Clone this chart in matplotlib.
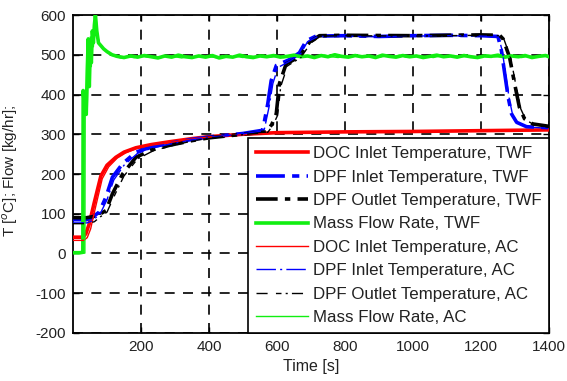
import matplotlib
matplotlib.use("Agg")
import matplotlib.pyplot as plt

plt.rcParams['font.family'] = ['Liberation Sans', 'DejaVu Sans']
plt.rcParams['axes.unicode_minus'] = False

# ---------------- data ----------------
# DOC inlet temperature
t_doc_twf = [0, 30, 38, 48, 62, 82, 100, 126, 150, 185, 230, 283, 350, 400, 500, 600, 800, 1000, 1200, 1400]
v_doc_twf = [41, 41, 50, 75, 126, 195, 222, 242, 255, 266, 274, 281, 289, 294, 300, 304, 306, 307, 309, 311]
t_doc_ac = [0, 32, 42, 52, 66, 86, 105, 130, 155, 190, 235, 290, 350, 400, 500, 600, 800, 1000, 1200, 1400]
v_doc_ac = [33, 33, 40, 62, 115, 188, 218, 240, 253, 265, 273, 280, 288, 293, 299, 303, 305, 306, 308, 310]

# DPF inlet temperature
t_dpfi_twf = [0, 40, 55, 77, 97, 116, 146, 185, 230, 283, 350, 400, 500, 558, 573, 583, 598, 637, 666, 686,
              715, 800, 900, 1000, 1100, 1200, 1250, 1260, 1270, 1280, 1290, 1305, 1334, 1400]
v_dpfi_twf = [85, 85, 90, 104, 142, 192, 226, 255, 268, 277, 287, 293, 302, 310, 377, 435, 473, 488, 505, 535,
              547, 548, 546, 548, 549, 548, 546, 511, 452, 393, 351, 330, 319, 316]
t_dpfi_ac = [0, 42, 58, 80, 100, 120, 150, 190, 235, 290, 350, 400, 500, 562, 577, 588, 603, 640, 670, 690,
             720, 800, 900, 1000, 1100, 1200, 1252, 1263, 1273, 1283, 1293, 1308, 1338, 1400]
v_dpfi_ac = [77, 77, 83, 100, 135, 185, 222, 252, 266, 276, 286, 292, 301, 309, 370, 428, 468, 485, 503, 533,
             546, 547, 545, 547, 548, 547, 545, 508, 448, 390, 349, 328, 318, 315]

# DPF outlet temperature
t_dpfo_twf = [0, 40, 60, 77, 97, 116, 126, 146, 185, 230, 283, 350, 400, 500, 570, 585, 598, 607, 627, 666,
              696, 725, 800, 1000, 1200, 1255, 1265, 1284, 1299, 1313, 1328, 1352, 1400]
v_dpfo_twf = [90, 90, 93, 98, 108, 150, 167, 200, 242, 260, 272, 284, 291, 300, 306, 325, 352, 427, 477, 495,
              532, 548, 549, 548, 550, 549, 540, 494, 427, 368, 339, 326, 320]
t_dpfo_ac = [0, 42, 63, 80, 100, 120, 130, 150, 190, 235, 290, 350, 400, 500, 573, 588, 602, 611, 631, 670,
             700, 730, 800, 1000, 1200, 1258, 1268, 1288, 1303, 1317, 1332, 1356, 1400]
v_dpfo_ac = [75, 75, 80, 92, 104, 142, 160, 195, 238, 258, 271, 283, 290, 299, 305, 322, 348, 420, 472, 493,
             530, 547, 548, 547, 549, 548, 538, 490, 422, 364, 336, 324, 319]

# Mass flow rate
t_flow_twf = [0, 20, 29, 30, 33, 36, 39, 42, 45, 48, 51, 54, 57, 60, 63, 66, 70, 75, 80, 90, 100, 115, 130,
              150, 170, 190, 210, 230, 250, 270, 290, 310, 330, 350, 370, 390, 410, 430, 450, 470, 490, 510,
              530, 550, 570, 590, 610, 630, 650, 670, 690, 710, 730, 750, 770, 790, 810, 830, 850, 870, 890,
              910, 930, 950, 970, 990, 1010, 1030, 1050, 1070, 1090, 1110, 1130, 1150, 1170, 1190, 1210,
              1230, 1250, 1270, 1290, 1310, 1330, 1350, 1370, 1390, 1400]
v_flow_twf = [2, 2, 3, 410, 380, 400, 350, 460, 540, 420, 520, 480, 560, 530, 575, 600, 560, 530, 525, 515,
              508, 500, 496, 493, 497, 494, 498, 495, 492, 497, 494, 499, 495, 493, 497, 494, 498, 492,
              496, 494, 499, 495, 493, 497, 495, 498, 494, 496, 499, 495, 497, 493, 498, 495, 500, 496, 494,
              498, 495, 497, 493, 499, 496, 494, 498, 495, 497, 493, 496, 499, 495, 497, 494, 498, 495, 493,
              497, 496, 499, 494, 497, 495, 498, 493, 496, 498, 495]
t_flow_ac = [0, 20, 35, 36, 39, 42, 45, 48, 51, 54, 57, 60, 64, 68, 72, 78, 85, 95, 105, 120, 140, 160, 180,
             200, 220, 240, 260, 280, 300, 320, 340, 360, 380, 400, 420, 440, 460, 480, 500, 520, 540, 560,
             580, 600, 620, 640, 660, 680, 700, 720, 740, 760, 780, 800, 820, 840, 860, 880, 900, 920, 940,
             960, 980, 1000, 1020, 1040, 1060, 1080, 1100, 1120, 1140, 1160, 1180, 1200, 1220, 1240, 1260,
             1280, 1300, 1320, 1340, 1360, 1380, 1400]
v_flow_ac = [0, 0, 1, 395, 410, 360, 500, 430, 545, 470, 555, 520, 580, 595, 550, 528, 520, 510, 503, 497,
             492, 495, 493, 497, 494, 496, 493, 498, 495, 492, 496, 494, 497, 495, 493, 498, 494, 496, 493,
             497, 495, 499, 494, 496, 493, 498, 495, 497, 494, 496, 499, 495, 493, 497, 495, 498, 494, 496,
             493, 497, 495, 499, 494, 496, 498, 495, 493, 497, 494, 498, 495, 496, 493, 497, 499, 495, 494,
             498, 496, 493, 497, 495, 498, 496]

labels = ["DOC Inlet Temperature, TWF", "DPF Inlet Temperature, TWF", "DPF Outlet Temperature, TWF",
          "Mass Flow Rate, TWF", "DOC Inlet Temperature, AC", "DPF Inlet Temperature, AC",
          "DPF Outlet Temperature, AC", "Mass Flow Rate, AC"]
x_ticks = [200, 400, 600, 800, 1000, 1200, 1400]
y_ticks = [-200, -100, 0, 100, 200, 300, 400, 500, 600]

# ---------------- figure ----------------
fig = plt.figure(figsize=(5.67, 3.81), dpi=100)
ax = fig.add_axes([0.1287, 0.126, 0.8395, 0.8346])

red, blue, green = '#ff0000', '#0000ff', '#11ee11'
thick, thin = 2.6, 1.0

ax.plot(t_doc_twf, v_doc_twf, color=red, lw=thick, label=labels[0], zorder=3)
ax.plot(t_dpfi_twf, v_dpfi_twf, color=blue, lw=thick, dashes=(8, 2, 2, 2), label=labels[1], zorder=3)
ax.plot(t_dpfo_twf, v_dpfo_twf, color='black', lw=thick, dashes=(6, 2, 1.5, 2), label=labels[2], zorder=3)
ax.plot(t_flow_twf, v_flow_twf, color=green, lw=thick, label=labels[3], zorder=3)
ax.plot(t_doc_ac, v_doc_ac, color=red, lw=thin, label=labels[4], zorder=4)
ax.plot(t_dpfi_ac, v_dpfi_ac, color=blue, lw=thin, dashes=(14, 3, 1.5, 3), label=labels[5], zorder=4)
ax.plot(t_dpfo_ac, v_dpfo_ac, color='black', lw=thin, dashes=(8, 6, 4, 3, 1.5, 3), label=labels[6], zorder=4)
ax.plot(t_flow_ac, v_flow_ac, color=green, lw=thin, label=labels[7], zorder=4)

ax.set_xlim(0, 1400)
ax.set_ylim(-200, 600)
ax.set_xticks(x_ticks)
ax.set_yticks(y_ticks)
ax.tick_params(direction='in', length=4, width=1, labelsize=11, top=True, right=True,
               colors='black', pad=5)
for lab in ax.get_xticklabels() + ax.get_yticklabels():
    lab.set_color('#222222')
ax.grid(True, color='black', linestyle=(0, (6, 5)), linewidth=1.2)
for s in ax.spines.values():
    s.set_linewidth(1.3)

ax.set_xlabel("Time [s]", fontsize=11.5, color='#222222', labelpad=4)
ax.set_ylabel("T [$^o$C]; Flow [kg/hr];", fontsize=11, color='#222222')
ax.yaxis.set_label_coords(-0.112, 0.51)

leg = ax.legend(loc='lower right', bbox_to_anchor=(1.0, 0.0), borderaxespad=0.0, fontsize=12.2,
                frameon=True, fancybox=False, framealpha=1.0, edgecolor='black',
                handlelength=3.1, labelspacing=0.5, borderpad=0.45, handletextpad=0.25)
leg.get_frame().set_linewidth(1.2)
for txt in leg.get_texts():
    txt.set_color('#222222')
leg.set_zorder(10)

fig.savefig("out.png", dpi=100)
